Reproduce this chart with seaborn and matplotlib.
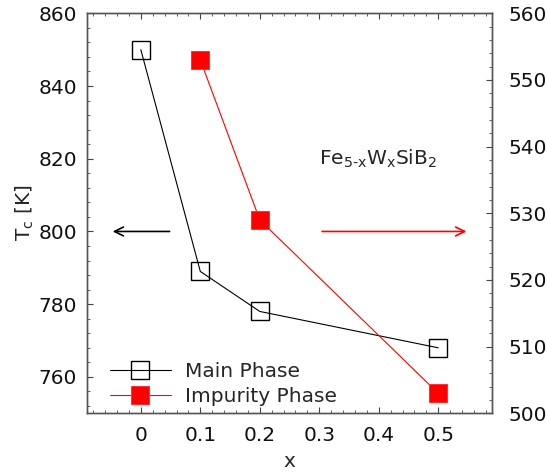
import numpy as np
import pandas as pd
import matplotlib
matplotlib.use("Agg")
import matplotlib.pyplot as plt
import seaborn as sns
from matplotlib.ticker import MultipleLocator

# data
x_main = [0.0, 0.1, 0.2, 0.5]
tc_main = [850, 789, 778, 768]
x_imp = [0.1, 0.2, 0.5]
tc_imp = [553, 529, 503]
x_ticks = [0, 0.1, 0.2, 0.3, 0.4, 0.5]
x_ticklabels = ["0", "0.1", "0.2", "0.3", "0.4", "0.5"]

FS = 14.5

sns.set_style("ticks")
plt.rcParams["font.family"] = ["DejaVu Sans"]
plt.rcParams["font.size"] = FS

main_df = pd.DataFrame({"x": x_main, "Tc": tc_main})
imp_df = pd.DataFrame({"x": x_imp, "Tc": tc_imp})

fig, ax = plt.subplots(figsize=(5.47, 4.75), dpi=100)
ax2 = ax.twinx()

sns.lineplot(data=main_df, x="x", y="Tc", ax=ax, color="black", lw=0.8,
             marker="s", markersize=13, markerfacecolor="none",
             markeredgecolor="black", markeredgewidth=1.0, label="Main Phase",
             legend=False)
sns.lineplot(data=imp_df, x="x", y="Tc", ax=ax2, color="red", lw=0.8,
             marker="s", markersize=13, markerfacecolor="red",
             markeredgecolor="#ff3333", label="Impurity Phase", legend=False)

ax.set_xlim(-0.091, 0.59)
ax.set_ylim(750, 860)
ax2.set_ylim(500, 560)
ax.set_xticks(x_ticks)
ax.set_xticklabels(x_ticklabels)
ax.xaxis.set_minor_locator(MultipleLocator(0.02))
ax.yaxis.set_major_locator(MultipleLocator(20))
ax.yaxis.set_minor_locator(MultipleLocator(4))
ax2.yaxis.set_major_locator(MultipleLocator(10))
ax2.yaxis.set_minor_locator(MultipleLocator(2))

ax.tick_params(which="both", direction="in", top=True, colors="#444444",
               labelcolor="#111111", labelsize=FS)
ax.tick_params(axis="y", which="major", length=4, pad=7)
ax.tick_params(axis="x", which="major", length=4, pad=9)
ax.tick_params(which="minor", length=2.2)
ax2.tick_params(which="both", direction="in", colors="#444444",
                labelcolor="#111111", labelsize=FS)
ax2.tick_params(which="major", length=4, pad=12)
ax2.tick_params(which="minor", length=2.2)
for a in (ax, ax2):
    for s in a.spines.values():
        s.set_color("#555555")
        s.set_linewidth(1.0)

ax.set_xlabel("x", fontsize=FS, labelpad=5)
ax.set_ylabel("T$_\\mathregular{c}$ [K]", fontsize=FS, labelpad=2)
ax2.set_ylabel("")

# arrows pointing to each axis
ax.annotate("", xy=(-0.052, 800), xytext=(0.053, 800),
            arrowprops=dict(arrowstyle="->", color="black", lw=1.2,
                            mutation_scale=16))
ax.annotate("", xy=(0.552, 800), xytext=(0.3, 800),
            arrowprops=dict(arrowstyle="->", color="red", lw=1.2,
                            mutation_scale=16))
ax.text(0.3, 820, "Fe$_\\mathregular{5\\text{-}x}$W$_\\mathregular{x}$SiB$_\\mathregular{2}$",
        fontsize=FS, va="center", ha="left")

h1, l1 = ax.get_legend_handles_labels()
h2, l2 = ax2.get_legend_handles_labels()
ax.legend(h1 + h2, l1 + l2, loc="lower left", bbox_to_anchor=(0.043, 0.004),
          frameon=False, fontsize=FS, handlelength=3.0, handletextpad=0.7,
          borderaxespad=0.0, borderpad=0.3, labelspacing=0.3)

fig.subplots_adjust(left=0.1585, right=0.899, top=0.972, bottom=0.13)
fig.savefig("out.png", dpi=100)
